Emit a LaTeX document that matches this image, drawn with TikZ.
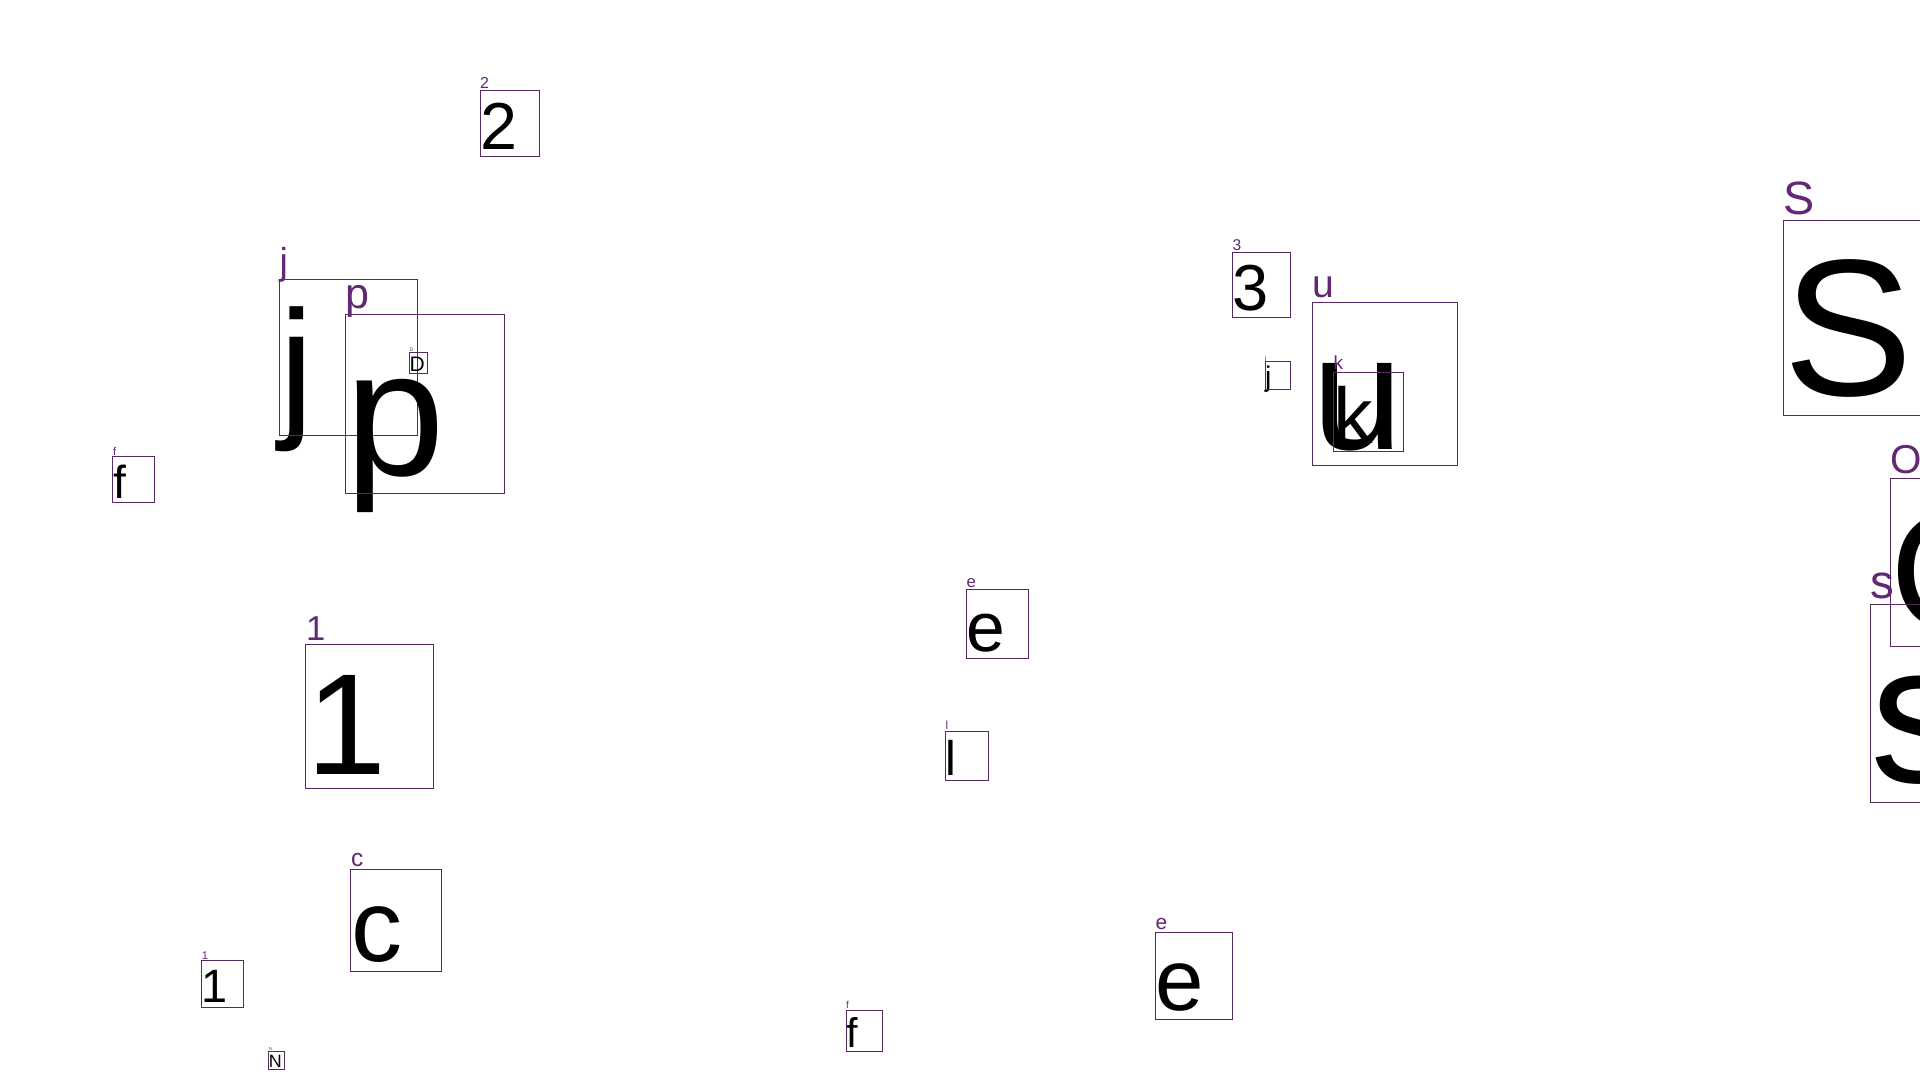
\documentclass[tikz,border=0pt]{standalone}
\usepackage{fontspec}
\setmainfont{Liberation Sans}
\definecolor{boxpurple}{RGB}{88, 40, 100}
\definecolor{labpurple}{RGB}{98, 40, 116}
\usepackage{tikz}
\usetikzlibrary{positioning, calc}

\begin{document}
\begin{tikzpicture}[x=1pt, y=-1pt,
  gbox/.style={draw=boxpurple, line width=1pt, inner sep=0pt, outer sep=0pt, anchor=north west},
  gchar/.style={text=black, inner sep=0pt, anchor=base west},
  glabel/.style={text=labpurple, inner sep=0pt, anchor=base west}
]
  \path[use as bounding box, fill=white] (0,0) rectangle (1920,1080);
  \foreach \id/\ch/\x/\y/\h in {two/2/480/90/66.5, jbig/j/279.3/279.3/155.7, pbig/p/345.3/314.3/179,
      dsmall/D/409.3/352.3/21, fleft/f/112.9/456.4/46.3, onebig/1/305.8/644.4/144,
      cmid/c/350.8/869.3/102, onesmall/1/201.6/960.6/46.8, nsmall/N/268.6/1051.5/17.9,
      eupper/e/966.3/589.2/69.6, lmid/l/945.3/731.4/48.6, fmid/f/846/1010/41.5,
      elower/e/1155.3/932.1/87, three/3/1232.3/252.3/65, jsmall/j/1265/361.3/28.4,
      ubig/u/1312.3/302.3/163, kmid/k/1333.3/372.3/79, sbig/S/1783/220.4/194.7,
      obig/O/1890.4/478.3/168, ssmall/s/1870/604/198.5} {
    \pgfmathsetmacro\ls{0.24*\h}
    \node[gchar, font=\fontsize{\h}{\h}\selectfont] (\id-char) at (\x, {\y+0.9*\h}) {\ch};
    \node[gbox, minimum width=0.89*\h pt, minimum height=\h pt] (\id) at (\x, \y) {};
    \node[glabel, font=\fontsize{\ls}{\ls}\selectfont] (\id-label) at (\x, {\y-0.03*\h}) {\ch};
  }
\end{tikzpicture}
\end{document}
